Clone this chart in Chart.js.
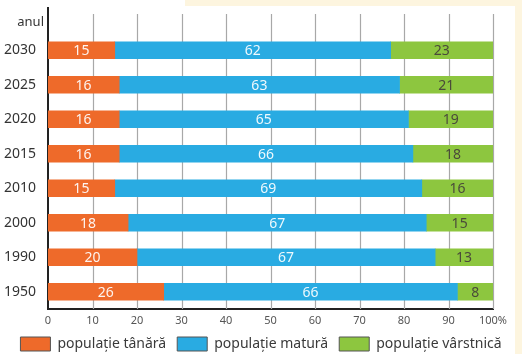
<!DOCTYPE html>
<html>
<head>
<meta charset="utf-8">
<script src="https://cdn.jsdelivr.net/npm/chart.js@4"></script>
<style>
    body { margin: 0; background: #ffffff; }
    #wrap { position: relative; width: 522px; height: 354px; background: #ffffff; }
    .cream { position: absolute; background: #fdf5df; }
    #myChart { position: absolute; left: 0; top: 0; }
</style>
</head>
<body>
<div id="wrap">
    <div class="cream" style="left:185px; top:0; width:337px; height:6px;"></div>
    <div class="cream" style="left:515px; top:0; width:7px; height:354px;"></div>
    <canvas id="myChart" width="522" height="354"></canvas>
</div>
<script>
const years = ['2030', '2025', '2020', '2015', '2010', '2000', '1990', '1950']
const young = [15, 16, 16, 16, 15, 18, 20, 26]
const adult = [62, 63, 65, 66, 69, 67, 67, 66]
const old = [23, 21, 19, 18, 16, 15, 13, 8]
const seriesNames = ['populație tânără', 'populație matură', 'populație vârstnică']
const xTicks = [0, 10, 20, 30, 40, 50, 60, 70, 80, 90, 100]

const fontName = '"Noto Sans", "Open Sans", sans-serif'

// grid lines go higher than the plot area, up to the "anul" label
const gridPlugin = {
    id: 'gridPlugin',
    beforeDatasetsDraw(chart) {
        const { ctx, chartArea } = chart
        const xScale = chart.scales.x
        ctx.save()
        ctx.strokeStyle = '#a8a8a8'
        ctx.lineWidth = 1.2
        xTicks.forEach(v => {
            if (v === 0) return
            const x = Math.round(xScale.getPixelForValue(v)) + 0.5
            ctx.beginPath()
            ctx.moveTo(x, 14)
            ctx.lineTo(x, chartArea.bottom)
            ctx.stroke()
        })
        // y axis line
        ctx.strokeStyle = '#222222'
        ctx.lineWidth = 2
        const x0 = xScale.getPixelForValue(0)
        ctx.beginPath()
        ctx.moveTo(x0, 7)
        ctx.lineTo(x0, chartArea.bottom + 1)
        ctx.stroke()
        // axis caption
        ctx.fillStyle = '#333333'
        ctx.font = '13px ' + fontName
        ctx.textAlign = 'right'
        ctx.textBaseline = 'middle'
        ctx.fillText('anul', x0 - 4, 22)
        ctx.restore()
    }
}

const valueLabels = {
    id: 'valueLabels',
    afterDatasetsDraw(chart) {
        const { ctx } = chart
        ctx.save()
        ctx.font = '14px ' + fontName
        ctx.textAlign = 'center'
        ctx.textBaseline = 'middle'
        chart.data.datasets.forEach((ds, i) => {
            const meta = chart.getDatasetMeta(i)
            ctx.fillStyle = i === 2 ? '#4a4a3a' : 'rgba(255,255,255,0.92)'
            meta.data.forEach((bar, j) => {
                const cx = (bar.x + bar.base) / 2
                ctx.fillText(ds.data[j], cx, bar.y + 1)
            })
        })
        ctx.restore()
    }
}

const ctx = document.querySelector('#myChart').getContext('2d')

new Chart(ctx, {
    type: 'bar',
    data: {
        labels: years,
        datasets: [{
            label: seriesNames[0],
            data: young,
            backgroundColor: '#ee6a2a'
        }, {
            label: seriesNames[1],
            data: adult,
            backgroundColor: '#29abe2'
        }, {
            label: seriesNames[2],
            data: old,
            backgroundColor: '#8dc63f'
        }]
    },
    options: {
        indexAxis: 'y',
        responsive: false,
        animation: false,
        barThickness: 17,
        layout: {
            padding: { top: 33, right: 0, left: 0, bottom: -7 }
        },
        plugins: {
            tooltip: { enabled: false },
            legend: {
                position: 'bottom',
                labels: {
                    boxWidth: 30,
                    boxHeight: 14,
                    padding: 11,
                    color: '#3a3a3a',
                    font: { family: fontName, size: 14 },
                    generateLabels(chart) {
                        return chart.data.datasets.map((ds, i) => ({
                            text: ds.label,
                            fillStyle: ds.backgroundColor,
                            strokeStyle: '#555555',
                            lineWidth: 1,
                            fontColor: '#3a3a3a',
                            datasetIndex: i
                        }))
                    }
                }
            }
        },
        scales: {
            x: {
                stacked: true,
                min: 0,
                max: 100,
                afterBuildTicks(scale) {
                    scale.ticks = xTicks.map(v => ({ value: v }))
                },
                afterFit(scale) { scale.height = 17 },
                grid: { display: false, drawTicks: false },
                border: { display: true, color: '#222222', width: 2 },
                ticks: {
                    color: '#555555',
                    font: { family: fontName, size: 11 },
                    padding: 5,
                    autoSkip: false,
                    maxRotation: 0,
                    callback: v => v === 100 ? '100%' : v
                }
            },
            y: {
                stacked: true,
                grid: { display: false },
                border: { display: false },
                afterFit(scale) { scale.width = 48 },
                ticks: {
                    color: '#333333',
                    font: { family: fontName, size: 14 },
                    padding: 4
                }
            },
            // empty axis that keeps the gap on the right of the plot
            yRight: {
                position: 'right',
                grid: { display: false },
                border: { display: false },
                ticks: { display: false },
                afterFit(scale) { scale.width = 29 }
            }
        }
    },
    plugins: [gridPlugin, valueLabels]
})
</script>
</body>
</html>
